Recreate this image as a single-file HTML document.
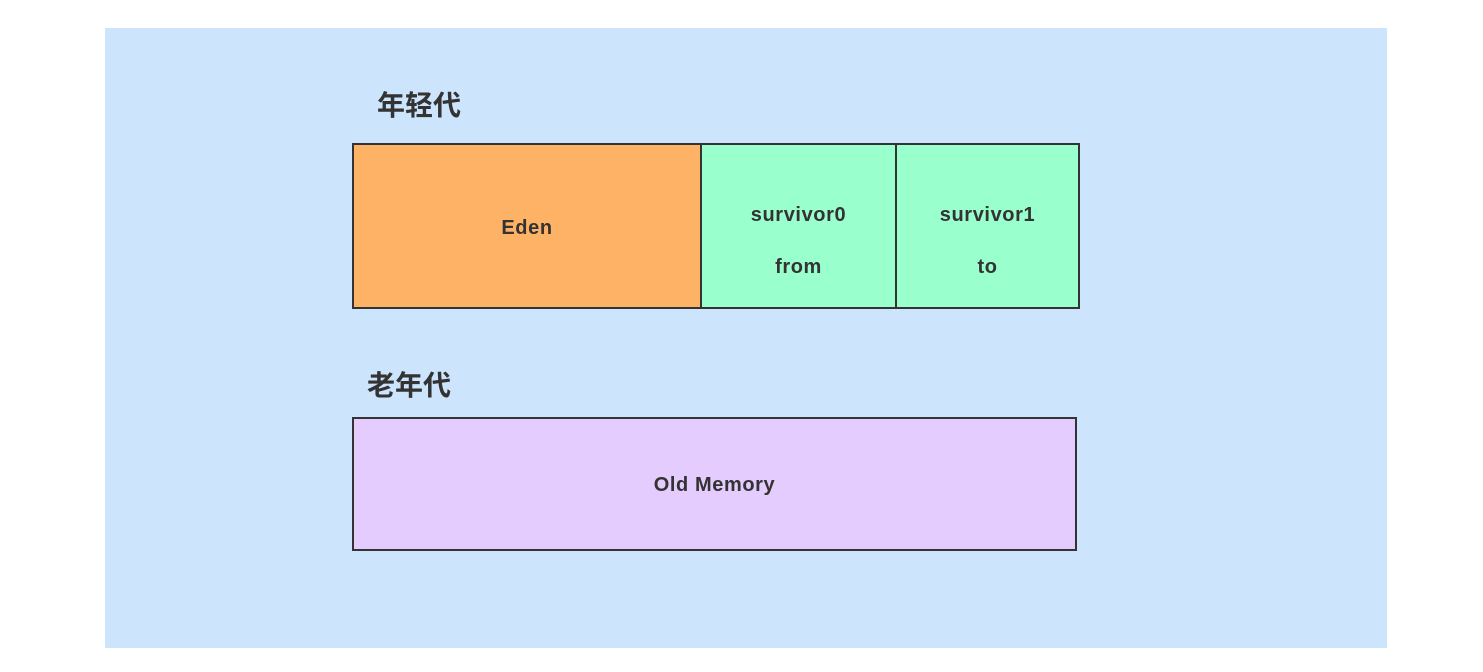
<!DOCTYPE html>
<html><head><meta charset="utf-8"><style>
body{margin:0;width:1483px;height:672px;background:#fff;position:relative;font-family:"Liberation Sans","Noto Sans CJK SC",sans-serif;color:#333;overflow:hidden}
.bg{position:absolute;left:105px;top:28px;width:1282px;height:620px;background:#cce5fc}
.b{position:absolute;box-sizing:border-box;border:2px solid #333;display:flex;align-items:center;justify-content:center;text-align:center;font-weight:bold;font-size:20px;letter-spacing:0.6px;line-height:52px}
.t{position:absolute;font-weight:bold;font-size:28px;color:#333}
</style></head><body>
<div class="bg"></div>
<div class="t" style="left:377px;top:84px">年轻代</div>
<div class="b" style="left:352px;top:143px;width:350px;height:166px;background:#feb266;padding-top:4px">Eden</div>
<div class="b" style="left:700px;top:143px;width:197px;height:166px;background:#99ffcc;padding-top:30px">survivor0<br>from</div>
<div class="b" style="left:895px;top:143px;width:185px;height:166px;background:#99ffcc;padding-top:30px">survivor1<br>to</div>
<div class="t" style="left:367px;top:364px">老年代</div>
<div class="b" style="left:352px;top:417px;width:725px;height:134px;background:#e4ccfe;padding-top:2px">Old Memory</div>
</body></html>
